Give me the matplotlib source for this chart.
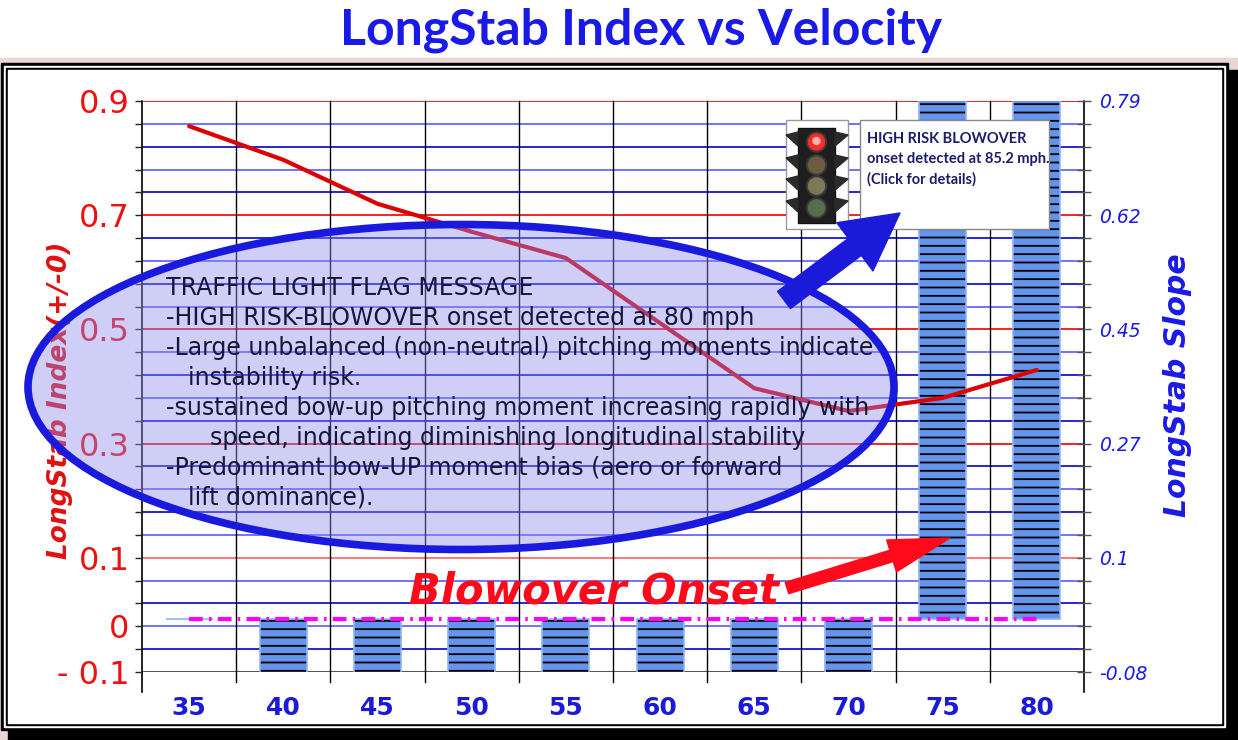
import matplotlib
matplotlib.use("Agg")
from matplotlib import pyplot as plt
from matplotlib.patches import Rectangle, Ellipse, Circle, Polygon
import numpy as np

# chart data
velocity = ['35', '40', '45', '50', '55', '60', '65', '70', '75', '80']
longstab_index = [0.856, 0.797, 0.720, 0.671, 0.625, 0.511, 0.397, 0.357, 0.380, 0.429]
longstab_slope = [0.0, -0.09, -0.09, -0.09, -0.09, -0.09, -0.09, -0.09, 0.85, 0.85]
zero_reference = [0.0, 0.0, 0.0, 0.0, 0.0, 0.0, 0.0, 0.0, 0.0, 0.0]

left_range = (-0.1, 0.9)
left_labels = {0: '- 0.1', 2: '0', 5: '0.1', 10: '0.3', 15: '0.5', 20: '0.7', 25: '0.9'}
right_range = (-0.08, 0.79)
right_labels = ['-0.08', '0.1', '0.27', '0.45', '0.62', '0.79']
n_grid = 26

message_lines = [
    (0, 'TRAFFIC LIGHT FLAG MESSAGE'),
    (0, '-HIGH RISK-BLOWOVER onset detected at 80 mph'),
    (0, '-Large unbalanced (non-neutral) pitching moments indicate'),
    (22, 'instability risk.'),
    (0, '-sustained bow-up pitching moment increasing rapidly with'),
    (44, 'speed, indicating diminishing longitudinal stability'),
    (0, '-Predominant bow-UP moment bias (aero or forward'),
    (22, 'lift dominance).'),
]
callout_lines = ['HIGH RISK BLOWOVER', 'onset detected at 85.2 mph.', '(Click for details)']

W, H = 1238, 740
fig = plt.figure(figsize=(W / 100, H / 100), dpi=100)

# frame behind everything, in pixel coordinates
bg = fig.add_axes([0, 0, 1, 1], zorder=-5)
bg.set_xlim(0, W)
bg.set_ylim(H, 0)
bg.axis('off')
bg.add_patch(Rectangle((0, 58), W, H - 58, color='#ead6d6'))
bg.add_patch(Rectangle((8, 70), W - 8, H - 70, color='black'))
bg.add_patch(Rectangle((1, 63), 1227, 667, color='black'))
bg.add_patch(Rectangle((4, 66), 1221, 661, color='white'))
bg.add_patch(Rectangle((6, 68), 1217, 657, color='black'))
bg.add_patch(Rectangle((8, 70), 1213, 653, color='white'))

x = np.arange(len(velocity))

ax = fig.add_axes([142 / W, 68 / H, 942 / W, 571 / H])
ax.set_facecolor('white')
ax.set_xlim(-0.5, len(velocity) - 0.5)
ax.set_ylim(*left_range)
for s in ax.spines.values():
    s.set_visible(False)

grid_pos = np.linspace(left_range[0], left_range[1], n_grid)
for i, g in enumerate(grid_pos):
    if i == 0:
        c = '#333333'
    elif i == 5:
        c = '#ff6060'
    elif i % 5 == 0:
        c = '#ee0000'
    elif i % 2:
        c = '#0000d0'
    else:
        c = '#5a5aff'
    ax.axhline(g, color=c, lw=1.2, zorder=0.5)
for k in range(len(velocity) - 1):
    ax.axvline(k + 0.5, ymin=-0.018, ymax=1, color='black', lw=1, clip_on=False, zorder=0.6)
for edge in (-0.5, len(velocity) - 0.5):
    ax.axvline(edge, ymin=-0.035, ymax=1, color='black', lw=1.2, clip_on=False, zorder=0.6)

ax.set_yticks(grid_pos)
ax.set_yticklabels([left_labels.get(i, '') for i in range(n_grid)])
ax.tick_params(axis='y', length=5, width=1, color='#222222', pad=4,
               labelsize=23, labelcolor='#ee1111')
ax.set_xticks(x)
ax.set_xticklabels(velocity)
ax.tick_params(axis='x', length=0, pad=17, labelsize=18, labelcolor='#1a1ad8')
for t in ax.get_xticklabels():
    t.set_fontweight('bold')

# slope bars on the right scale
ax2 = ax.twinx()
ax2.set_ylim(*right_range)
ax2.patch.set_visible(False)
for s in ax2.spines.values():
    s.set_visible(False)
plt.rcParams['hatch.linewidth'] = 1.3
ax2.bar(x, longstab_slope, width=0.5, color='#6495ed', edgecolor='black',
        hatch='--', lw=0, zorder=2)
ax2.bar(x, longstab_slope, width=0.5, fill=False, edgecolor='#8fb4f4', lw=1.2, zorder=2.1)
ax2.plot(x, zero_reference, color='#ff00ff', lw=3, dashes=(3.3, 1.5, 0.6, 1.5), zorder=3)
ax2.set_yticks(np.linspace(right_range[0], right_range[1], n_grid))
ax2.set_yticklabels([right_labels[i // 5] if i % 5 == 0 else '' for i in range(n_grid)])
ax2.tick_params(axis='y', direction='inout', length=10, width=1, color='#555555', pad=6,
                labelsize=13.5, labelcolor='#1a1ae8')
for t in ax2.get_yticklabels():
    t.set_fontstyle('italic')

# index line on the left scale, drawn above the bars
ax3 = ax.twinx()
ax3.set_ylim(*left_range)
ax3.patch.set_visible(False)
ax3.axis('off')
ax3.plot(x, longstab_index, color='#dd0000', lw=3, solid_capstyle='round', zorder=4)

# titles and axis names
fig.text(641 / W, 1 - 30 / H, 'LongStab Index vs Velocity', ha='center', va='center',
         fontsize=36, fontweight='bold', color='#1a1ae8', family='Lato')
fig.text(60 / W, 1 - 400 / H, 'LongStab Index(+/-0)', rotation=90, ha='center', va='center',
         fontsize=19, fontweight='bold', fontstyle='italic', color='#e01010')
fig.text(1178 / W, 1 - 385 / H, 'LongStab Slope', rotation=90, ha='center', va='center',
         fontsize=21.5, fontweight='bold', fontstyle='italic', color='#1a1ae8')

# annotation layer in pixel coordinates
ov = fig.add_axes([0, 0, 1, 1], zorder=5)
ov.set_xlim(0, W)
ov.set_ylim(H, 0)
ov.axis('off')
ov.patch.set_visible(False)

ov.add_patch(Ellipse((461, 387), 866, 325, facecolor=(0.55, 0.55, 0.93, 0.42),
                     edgecolor='#1a1adf', lw=5.5))
for i, (indent, line) in enumerate(message_lines):
    ov.text(166 + indent, 288 + 30 * i, line, ha='left', va='center',
            fontsize=17, color='#16163c')

ov.annotate('', xy=(900, 213), xytext=(784, 300),
            arrowprops=dict(arrowstyle='simple,head_width=3.1,head_length=2.9,tail_width=1.1',
                            mutation_scale=14, color='#1a1ad8', shrinkA=0, shrinkB=0))
ov.annotate('', xy=(950, 538), xytext=(787, 588),
            arrowprops=dict(arrowstyle='simple,head_width=2.4,head_length=4.4,tail_width=0.85',
                            mutation_scale=10, color='#ff0a1a', shrinkA=0, shrinkB=0))
ov.text(594, 592, 'Blowover Onset', ha='center', va='center', fontsize=30,
        fontweight='bold', fontstyle='italic', color='#ff0a1a')

# traffic light callout
ov.add_patch(Rectangle((786, 120), 62, 109, facecolor='white', edgecolor='#999999', lw=1))
ov.add_patch(Rectangle((860, 120), 189, 109, facecolor='white', edgecolor='#888888', lw=1))
ov.add_patch(Rectangle((798, 128), 37, 95, facecolor='#1e1e1e', edgecolor='#111111', lw=1))
light_y = [142, 165, 186, 208]
light_col = ['#ff2a2a', '#6e5c40', '#7c7a56', '#566e4c']
for ly, lc in zip(light_y, light_col):
    ov.add_patch(Polygon([(798, ly - 10), (786, ly - 7), (798, ly + 4)], color='#2a2a2a'))
    ov.add_patch(Polygon([(835, ly - 10), (848, ly - 7), (835, ly + 4)], color='#2a2a2a'))
    ov.add_patch(Circle((816.5, ly), 10, color='#3a3a3a'))
    ov.add_patch(Circle((816.5, ly), 8, color=lc))
ov.add_patch(Circle((816.5, light_y[0] - 1), 3.5, color='#ffb0b0'))
for i, line in enumerate(callout_lines):
    ov.text(867, 139 + 20 * i, line, ha='left', va='center', fontsize=10.5,
            fontweight='bold', color='#1c1c6a', family='Lato')

fig.savefig('out.png', dpi=100)
